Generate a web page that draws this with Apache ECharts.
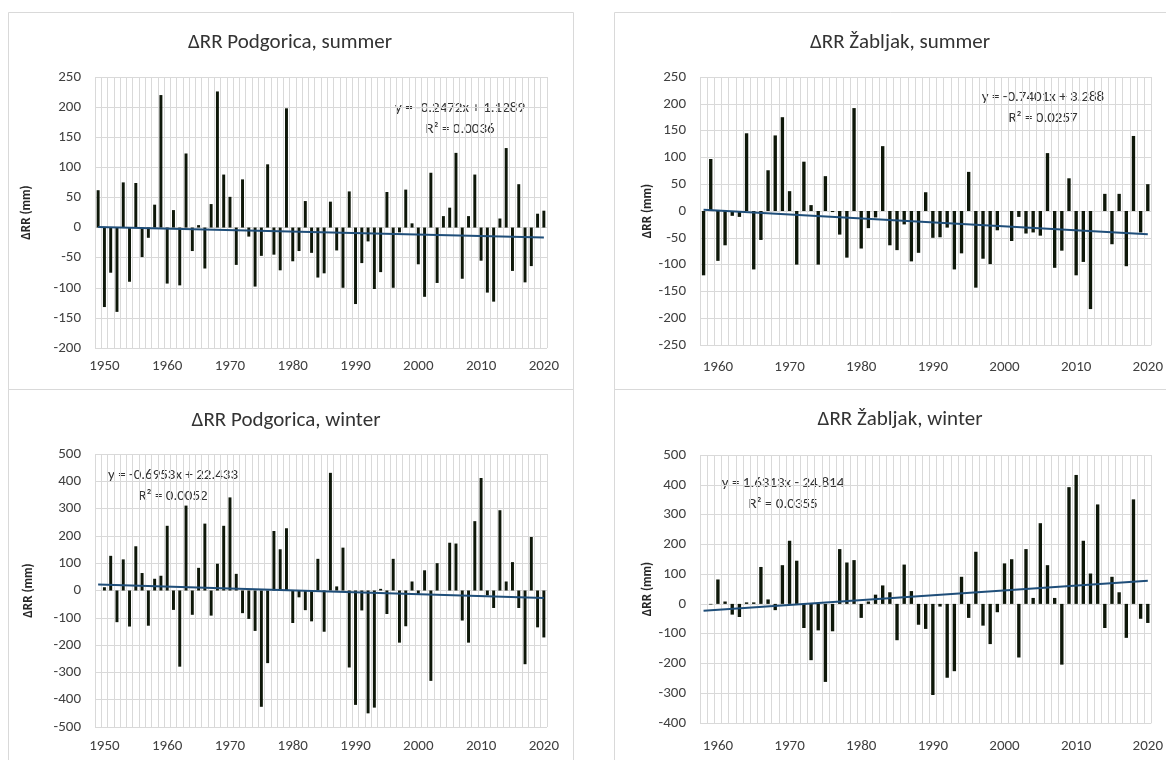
<!DOCTYPE html>
<html>
<head>
<meta charset="utf-8">
<script src="https://cdn.jsdelivr.net/npm/echarts@6/dist/echarts.min.js"></script>
<style>
  body { margin: 0; background: #fff; }
  #main { width: 1166px; height: 760px; }
</style>
</head>
<body>
<div id="main"></div>
<script>
// years 1949-2020 for Podgorica, 1958-2020 for Zabljak
var yearsPodgorica = [];
for (var y = 1949; y <= 2020; y++) yearsPodgorica.push(String(y));
var yearsZabljak = [];
for (var y2 = 1958; y2 <= 2020; y2++) yearsZabljak.push(String(y2));

// ΔRR (mm)
var podgoricaSummer = [62, -132, -75, -140, 75, -90, 74, -49, -17, 38,
  220, -93, 29, -96, 123, -39, 4, -68, 39, 226,
  88, 51, -62, 80, -15, -98, -47, 105, -45, -71,
  198, -56, -39, 44, -42, -83, -76, 43, -38, -100,
  60, -127, -59, -23, -102, -74, 59, -100, -8, 63,
  7, -61, -115, 91, -92, 19, 33, 124, -85, 19,
  88, -55, -108, -123, 15, 132, -72, 72, -91, -64,
  23, 28];

var zabljakSummer = [-120, 97, -93, -64, -9, -11, 145, -109, -54, 76,
  141, 175, 37, -100, 92, 11, -100, 65, -2, -44,
  -87, 192, -70, -32, -12, 121, -64, -73, -25, -94,
  -78, 35, -50, -49, -31, -109, -79, 73, -143, -89,
  -99, -36, 0, -56, -11, -42, -40, -46, 108, -106,
  -74, 61, -120, -95, -183, 0, 32, -62, 32, -103,
  140, -40, 50];

var podgoricaWinter = [null, 12, 127, -116, 114, -132, 162, 64, -129, 43,
  54, 237, -71, -279, 311, -89, 83, 245, -92, 98,
  237, 341, 61, -83, -104, -148, -426, -266, 218, 151,
  228, -119, -25, -72, -113, 116, -151, 431, 15, 157,
  -282, -419, -73, -450, -429, 6, -86, 116, -191, -131,
  33, -12, 74, -331, 100, 0, 175, 172, -110, -191,
  254, 412, -18, -64, 294, 33, 104, -64, -270, 196,
  -135, -172];

var zabljakWinter = [null, -2, 82, 8, -36, -44, 5, 5, 124, 15,
  -21, 130, 212, 145, -81, -189, -89, -262, -92, 184,
  139, 147, -47, 8, 31, 62, 39, -122, 132, 43,
  -70, -84, -306, -9, -248, -226, 91, -47, 175, -73,
  -135, -28, 136, 150, -180, 184, 20, 271, 130, 20,
  -204, 392, 433, 212, 102, 334, -81, 91, 39, -114,
  351, -50, -64];

// linear trend y = a*x + b (x = 1..n), as printed on the chart
var trendPodgoricaSummer = [-0.2472, 1.1289];
var trendZabljakSummer = [-0.7401, 3.288];
var trendPodgoricaWinter = [-0.6953, 22.433];
var trendZabljakWinter = [1.6313, -24.814];

var fontFamily = 'Calibri, Carlito, Lato, sans-serif';

var panels = [
  { title: 'ΔRR Podgorica, summer', years: yearsPodgorica, values: podgoricaSummer, trend: trendPodgoricaSummer,
    eq: 'y = -0.2472x + 1.1289', r2: 'R² = 0.0036',
    grid: { left: 95, top: 77, width: 452, height: 271 }, min: -200, max: 250, step: 50,
    nameGap: 62, labelMargin: 11, titleX: 290, titleY: 43, eqX: 460, eqY: 108 },
  { title: 'ΔRR Žabljak, summer', years: yearsZabljak, values: zabljakSummer, trend: trendZabljakSummer,
    eq: 'y = -0.7401x + 3.288', r2: 'R² = 0.0257',
    grid: { left: 700, top: 77, width: 452, height: 268 }, min: -250, max: 250, step: 50,
    nameGap: 44, labelMargin: 15, titleX: 900, titleY: 43, eqX: 1043, eqY: 97 },
  { title: 'ΔRR Podgorica, winter', years: yearsPodgorica, values: podgoricaWinter, trend: trendPodgoricaWinter,
    eq: 'y = -0.6953x + 22.433', r2: 'R² = 0.0052',
    grid: { left: 95, top: 454, width: 452, height: 273 }, min: -500, max: 500, step: 100,
    nameGap: 60, labelMargin: 12, titleX: 286, titleY: 421, eqX: 173, eqY: 475 },
  { title: 'ΔRR Žabljak, winter', years: yearsZabljak, values: zabljakWinter, trend: trendZabljakWinter,
    eq: 'y = 1.6313x - 24.814', r2: 'R² = 0.0355',
    grid: { left: 700, top: 455, width: 452, height: 268 }, min: -400, max: 500, step: 100,
    nameGap: 44, labelMargin: 16, titleX: 900, titleY: 420, eqX: 783, eqY: 483 }
];

var grids = [], xAxes = [], yAxes = [], series = [];
var graphics = [
  { type: 'rect', shape: { x: 8.5, y: 12.5, width: 565, height: 377 }, style: { fill: 'none', stroke: '#d9d9d9', lineWidth: 1 } },
  { type: 'rect', shape: { x: 614.5, y: 12.5, width: 560, height: 377 }, style: { fill: 'none', stroke: '#d9d9d9', lineWidth: 1 } },
  { type: 'rect', shape: { x: 8.5, y: 389.5, width: 565, height: 400 }, style: { fill: 'none', stroke: '#d9d9d9', lineWidth: 1 } },
  { type: 'rect', shape: { x: 614.5, y: 389.5, width: 560, height: 400 }, style: { fill: 'none', stroke: '#d9d9d9', lineWidth: 1 } }
];

panels.forEach(function (p, i) {
  grids.push(p.grid);
  xAxes.push({
    type: 'category',
    gridIndex: i,
    data: p.years,
    boundaryGap: true,
    axisLine: { show: false },
    axisTick: { show: false },
    axisLabel: {
      interval: function (idx, val) { return Number(val) % 10 === 0; },
      color: '#404040', fontSize: 15, fontFamily: fontFamily, margin: p.labelMargin, hideOverlap: false
    },
    splitLine: { show: true, interval: 0, lineStyle: { color: '#d9d9d9', width: 1 } }
  });
  yAxes.push({
    type: 'value',
    gridIndex: i,
    min: p.min,
    max: p.max,
    interval: p.step,
    axisLine: { show: false },
    axisTick: { show: false },
    axisLabel: { color: '#404040', fontSize: 15, fontFamily: fontFamily, margin: 14 },
    splitLine: { lineStyle: { color: '#d9d9d9', width: 1 } },
    name: 'ΔRR (mm)',
    nameLocation: 'middle',
    nameGap: p.nameGap,
    nameTextStyle: { fontWeight: 'bold', fontSize: 13, color: '#262626', fontFamily: fontFamily }
  });
  series.push({
    type: 'bar',
    xAxisIndex: i,
    yAxisIndex: i,
    data: p.values,
    barWidth: '47%',
    itemStyle: { color: '#0e1709' },
    silent: true
  });
  var n = p.years.length;
  series.push({
    type: 'line',
    xAxisIndex: i,
    yAxisIndex: i,
    data: [[0, p.trend[0] * 1 + p.trend[1]], [n - 1, p.trend[0] * n + p.trend[1]]],
    symbol: 'none',
    lineStyle: { color: '#1f4e79', width: 2 },
    z: 5,
    silent: true
  });
  graphics.push({ type: 'text', x: p.titleX, y: p.titleY,
    style: { text: p.title, font: '21px ' + fontFamily, fill: '#333', textAlign: 'center', textVerticalAlign: 'middle', align: 'center', verticalAlign: 'middle' } });
  graphics.push({ type: 'text', x: p.eqX, y: p.eqY,
    style: { text: p.eq, font: '15px ' + fontFamily, fill: '#333', textAlign: 'center', textVerticalAlign: 'middle', align: 'center', verticalAlign: 'middle' } });
  graphics.push({ type: 'text', x: p.eqX, y: p.eqY + 21,
    style: { text: p.r2, font: '15px ' + fontFamily, fill: '#333', textAlign: 'center', textVerticalAlign: 'middle', align: 'center', verticalAlign: 'middle' } });
});

var myChart = echarts.init(document.getElementById('main'));
myChart.setOption({
  animation: false,
  backgroundColor: '#fff',
  grid: grids,
  xAxis: xAxes,
  yAxis: yAxes,
  series: series,
  graphic: graphics
});
</script>
</body>
</html>
